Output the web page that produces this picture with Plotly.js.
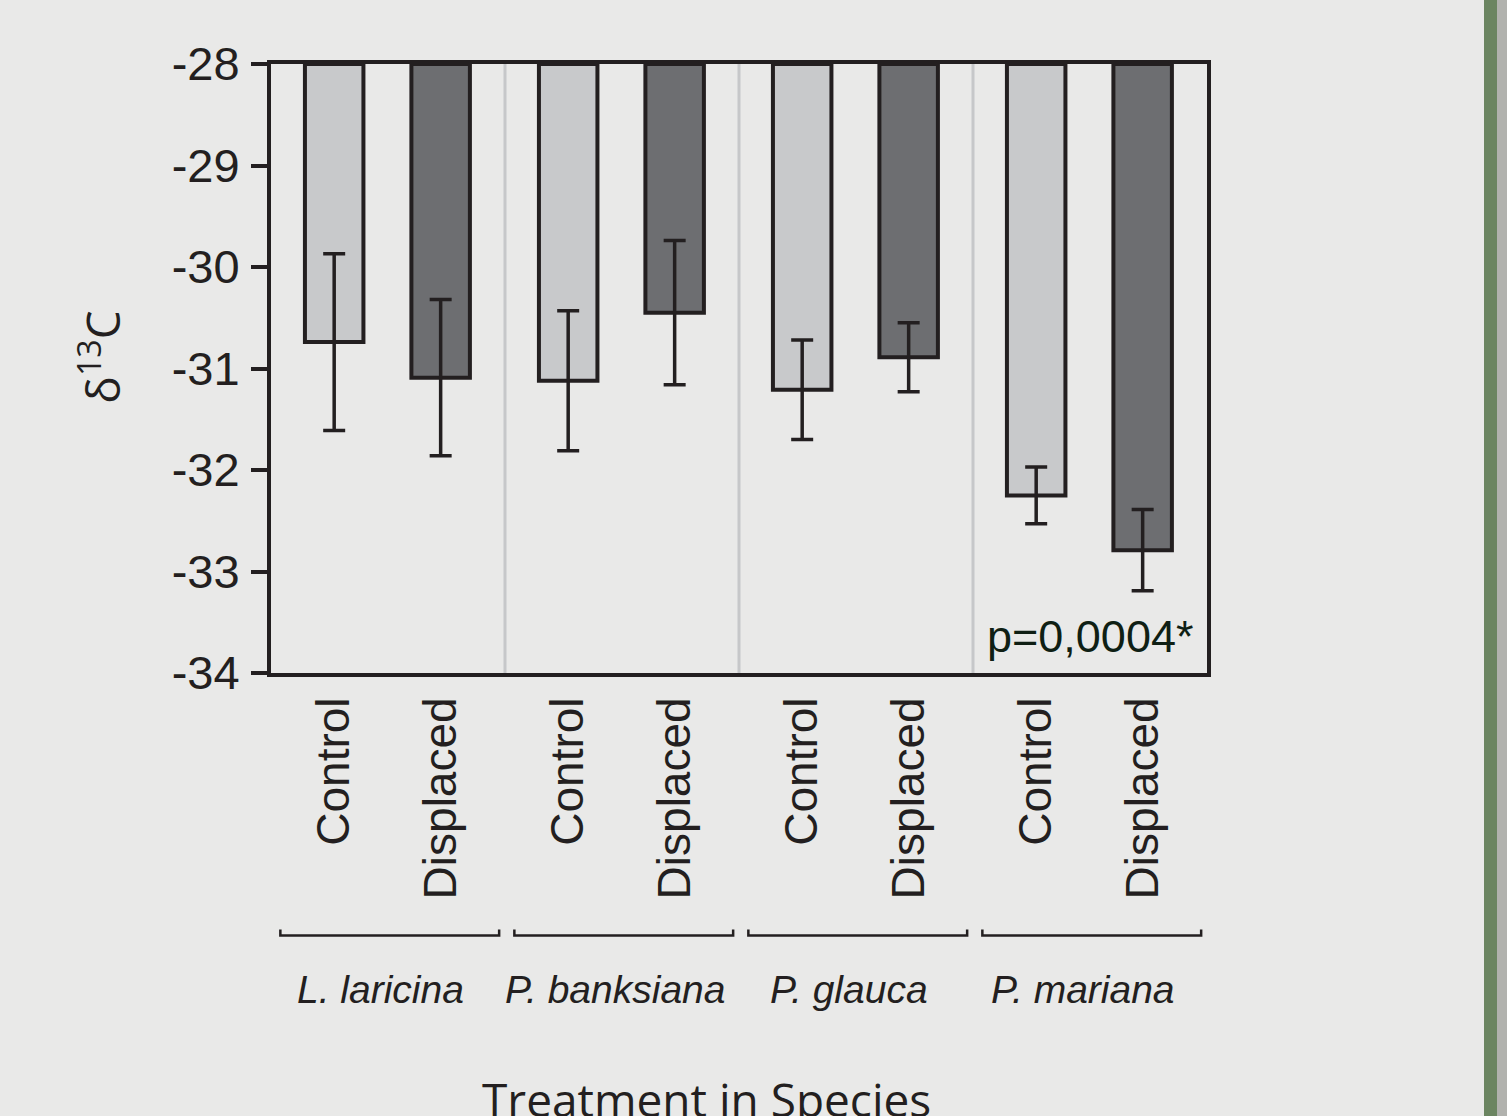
<!DOCTYPE html>
<html><head><meta charset="utf-8">
<script src="https://cdn.plot.ly/plotly-3.0.1.min.js"></script>
<style>html,body{margin:0;padding:0;background:#e9e9e8;}</style>
</head><body>
<div id="chart" style="width:1507px;height:1116px;"></div>
<script>
var species = ['L. laricina', 'P. banksiana', 'P. glauca', 'P. mariana'];
var treatments = ['Control', 'Displaced'];
var controlMean = [-30.74, -31.12, -31.21, -32.25];
var controlErr = [0.87, 0.69, 0.49, 0.28];
var displacedMean = [-31.09, -30.45, -30.89, -32.79];
var displacedErr = [0.77, 0.71, 0.34, 0.40];
var yTicks = [-34, -33, -32, -31, -30, -29, -28];
var yTickText = ['-34', '-33', '-32', '-31', '-30', '-29', '-28'];
var pLabel = 'p=0,0004*';
var yTitle = 'δ<sup>13</sup>C';
var xTitle = 'Treatment in Species';

var BASE = -28;
var offs = [0.27, 0.725];
var barW = 0.25;
function pos(k){ return species.map(function(s,g){ return g + offs[k]; }); }
function len(arr){ return arr.map(function(v){ return v - BASE; }); }

var lineCol = '#231f20';
var traces = [
  {type:'bar', name:treatments[0], x:pos(0), y:len(controlMean), base:BASE, width:barW,
   marker:{color:'#c8c9cb', line:{color:lineCol, width:4}},
   error_y:{type:'data', array:controlErr, visible:true, color:lineCol, thickness:3.5, width:11},
   hoverinfo:'skip'},
  {type:'bar', name:treatments[1], x:pos(1), y:len(displacedMean), base:BASE, width:barW,
   marker:{color:'#6d6e71', line:{color:lineCol, width:4}},
   error_y:{type:'data', array:displacedErr, visible:true, color:lineCol, thickness:3.5, width:11},
   hoverinfo:'skip'}
];

var tickvals = [], ticktext = [];
species.forEach(function(s,g){ treatments.forEach(function(t,k){ tickvals.push(g+offs[k]); ticktext.push(t); }); });

var shapes = [];
for (var g = 1; g < species.length; g++) {
  shapes.push({type:'line', xref:'x', yref:'y', x0:g, x1:g, y0:-34, y1:-28, layer:'below',
    line:{color:'#c6c7c9', width:3}});
}
species.forEach(function(s,g){
  var a = g + 0.04, b = g + 0.975, y0 = -0.421, y1 = -0.431;
  shapes.push({type:'path', xref:'x', yref:'paper',
    path:'M'+a+','+y0+' L'+a+','+y1+' L'+b+','+y1+' L'+b+','+y0,
    line:{color:lineCol, width:2.5}});
});
// right-hand decorative band
shapes.push({type:'rect', xref:'paper', yref:'paper', x0:(1484-271)/936, x1:(1497-271)/936, y0:-0.8, y1:1.2,
  line:{width:0}, fillcolor:'#6b8561'});
shapes.push({type:'rect', xref:'paper', yref:'paper', x0:(1497-271)/936, x1:(1510-271)/936, y0:-0.8, y1:1.2,
  line:{width:0}, fillcolor:'#b1b2ae'});

var annotations = species.map(function(s,g){
  return {text:'<i>'+s+'</i>', xref:'x', yref:'paper', x:g+0.47, y:-0.52, xanchor:'center', yanchor:'middle',
    showarrow:false,
    font:{family:'Liberation Sans Narrow, Liberation Sans, Arial', size:39, color:'#231f20'}};
});
annotations.push({text:pLabel, xref:'paper', yref:'paper', x:0.987, y:0.015, xanchor:'right', yanchor:'bottom',
  showarrow:false, font:{family:'Liberation Sans, Arial', size:45, color:'#0f1f14'}});
annotations.push({text:'δ<sup style="font-size:30px">13</sup>C', xref:'paper', yref:'paper', x:-0.183, y:0.519, xanchor:'center', yanchor:'middle',
  textangle:-90, showarrow:false,
  font:{family:'Open Sans, Noto Sans', size:46, color:'#231f20'}});
annotations.push({text:xTitle, xref:'paper', yref:'paper', x:0.465, y:-0.645, xanchor:'center', yanchor:'top',
  showarrow:false,
  font:{family:'Open Sans, Noto Sans', size:46, color:'#231f20'}});

var layout = {
  width:1507, height:1116,
  margin:{l:271, r:300, t:64, b:443, pad:0},
  paper_bgcolor:'#e9e9e8', plot_bgcolor:'#e9e9e8',
  showlegend:false, barmode:'overlay',
  xaxis:{range:[0,4], tickvals:tickvals, ticktext:ticktext, tickangle:-90, ticks:'',
    showgrid:false, zeroline:false, showline:true, mirror:true, linecolor:lineCol, linewidth:4,
    ticklabelstandoff:2,
    tickfont:{family:'Liberation Sans, Arial', size:46, color:'#231f20'}},
  yaxis:{range:[-34,-28], tickvals:yTicks, ticktext:yTickText, ticks:'outside', ticklen:16, tickwidth:4, tickcolor:lineCol,
    showgrid:false, zeroline:false, showline:true, mirror:true, linecolor:lineCol, linewidth:4,
    ticklabelstandoff:2,
    tickfont:{family:'Liberation Sans, Arial', size:47, color:'#231f20'}},
  shapes:shapes, annotations:annotations
};
Plotly.newPlot('chart', traces, layout, {staticPlot:true, displayModeBar:false});
</script>
</body></html>
